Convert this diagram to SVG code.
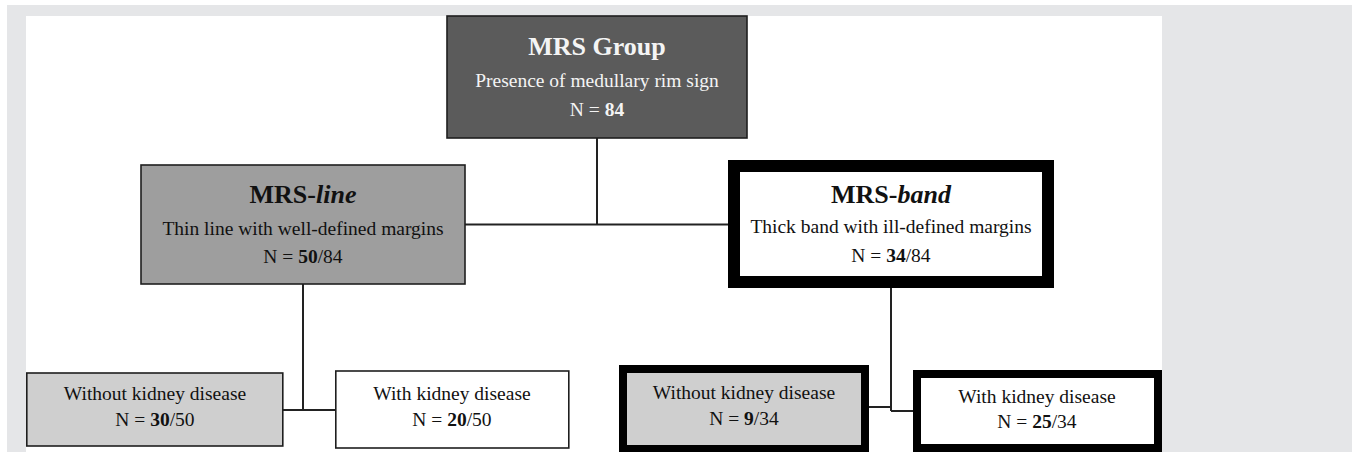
<svg xmlns="http://www.w3.org/2000/svg" width="1352" height="452" viewBox="0 0 1352 452">
<style>
text{font-family:"Liberation Serif","Times New Roman",serif;text-anchor:middle;fill:#111}
.t{font-size:26px;font-weight:bold}
.b{font-size:19.5px}
.w{fill:#f4f4f4}
.thin{stroke:#1e1e1e;stroke-width:1.6}
.thick{stroke:#000;stroke-width:12}
.mid{stroke:#000;stroke-width:8}
.c{fill:none;stroke:#222;stroke-width:2}
</style>
<rect x="0" y="0" width="1352" height="452" fill="#ffffff"/>
<rect x="7" y="5" width="1345" height="447" fill="#e5e6e8"/>
<rect x="26" y="16" width="1136" height="436" fill="#ffffff"/>
<g id="connectors">
<path class="c" d="M597 138V224.5M465 224.5H728"/>
<path class="c" d="M303 284V410M283 410H335"/>
<path class="c" d="M891 288V411M869 407H891M891 411H913"/>
</g>
<g id="mrs-group">
<rect x="447" y="16" width="300" height="122" fill="#5b5b5b" class="thin"/>
<text x="597" y="55" class="t w">MRS Group</text>
<text x="597" y="87" class="b w">Presence of medullary rim sign</text>
<text x="597" y="116" class="b w">N = <tspan font-weight="bold">84</tspan></text>
</g>
<g id="mrs-line">
<rect x="141" y="165" width="324" height="119" fill="#9e9e9e" class="thin"/>
<text x="303" y="203" class="t">MRS-<tspan font-style="italic">line</tspan></text>
<text x="303" y="235" class="b">Thin line with well-defined margins</text>
<text x="303" y="263" class="b">N = <tspan font-weight="bold">50</tspan>/84</text>
</g>
<g id="mrs-band">
<rect x="734" y="166" width="314" height="116" fill="#ffffff" class="thick"/>
<text x="891" y="203" class="t">MRS-<tspan font-style="italic">band</tspan></text>
<text x="891" y="233" class="b">Thick band with ill-defined margins</text>
<text x="891" y="262" class="b">N = <tspan font-weight="bold">34</tspan>/84</text>
</g>
<g id="line-without">
<rect x="26.8" y="373" width="256" height="73" fill="#cfcfcf" class="thin"/>
<text x="155" y="400" class="b">Without kidney disease</text>
<text x="155" y="426" class="b">N = <tspan font-weight="bold">30</tspan>/50</text>
</g>
<g id="line-with">
<rect x="335.8" y="371" width="233" height="77" fill="#ffffff" class="thin"/>
<text x="452" y="400" class="b">With kidney disease</text>
<text x="452" y="426" class="b">N = <tspan font-weight="bold">20</tspan>/50</text>
</g>
<g id="band-without">
<rect x="623" y="369" width="242" height="80" fill="#cfcfcf" class="mid"/>
<text x="744" y="399" class="b">Without kidney disease</text>
<text x="744" y="425" class="b">N = <tspan font-weight="bold">9</tspan>/34</text>
</g>
<g id="band-with">
<rect x="917" y="374" width="241" height="74" fill="#ffffff" class="mid"/>
<text x="1037" y="403" class="b">With kidney disease</text>
<text x="1037" y="428" class="b">N = <tspan font-weight="bold">25</tspan>/34</text>
</g>
</svg>
